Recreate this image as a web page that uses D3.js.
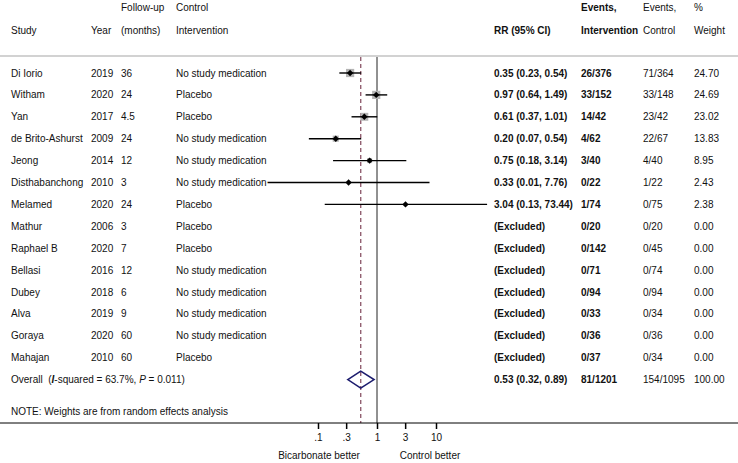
<!DOCTYPE html>
<html>
<head>
<meta charset="utf-8">
<script src="https://cdn.jsdelivr.net/npm/d3@7/dist/d3.min.js"></script>
<style>
  html, body { margin: 0; padding: 0; background: #fff; }
  svg text { font-family: "Liberation Sans", Arial, Helvetica, sans-serif; font-size: 10px; fill: #111; }
</style>
</head>
<body>
<svg id="chart" width="738" height="463"></svg>
<script>
// ---- data ----
const studies = ["Di Iorio","Witham","Yan","de Brito-Ashurst","Jeong","Disthabanchong","Melamed","Mathur","Raphael B","Bellasi","Dubey","Alva","Goraya","Mahajan"];
const years = ["2019","2020","2017","2009","2014","2010","2020","2006","2020","2016","2018","2019","2020","2010"];
const followup = ["36","24","4.5","24","12","3","24","3","7","12","6","9","60","60"];
const controlType = ["No study medication","Placebo","Placebo","No study medication","No study medication","No study medication","Placebo","Placebo","Placebo","No study medication","No study medication","No study medication","No study medication","Placebo"];
const rr = [0.35,0.97,0.61,0.20,0.75,0.33,3.04,null,null,null,null,null,null,null];
const rrLow = [0.23,0.64,0.37,0.07,0.18,0.01,0.13,null,null,null,null,null,null,null];
const rrHigh = [0.54,1.49,1.01,0.54,3.14,7.76,73.44,null,null,null,null,null,null,null];
const eventsIntervention = ["26/376","33/152","14/42","4/62","3/40","0/22","1/74","0/20","0/142","0/71","0/94","0/33","0/36","0/37"];
const eventsControl = ["71/364","33/148","23/42","22/67","4/40","1/22","0/75","0/20","0/45","0/74","0/94","0/34","0/36","0/34"];
const weights = [24.70,24.69,23.02,13.83,8.95,2.43,2.38,0,0,0,0,0,0,0];
const overallRR = 0.53, overallLow = 0.32, overallHigh = 0.89;
const overallEventsInt = "81/1201", overallEventsCtl = "154/1095", overallWeight = "100.00";
const tickValues = [0.1, 0.3, 1, 3, 10];
const tickLabels = [".1", ".3", "1", "3", "10"];

// ---- layout ----
const svg = d3.select("#chart");
const x = d3.scaleLog().domain([0.1, 10]).range([318, 436]);
const y = d3.scaleLinear().domain([0, 14]).range([73, 379.6]);
const topLineY = 56, axisY = 423;
const col = { study: 11, year: 91, fu: 121, ctl: 176, rr: 494, ei: 581, ec: 643, w: 694 };

function fmt(v) { return v.toFixed(2); }

// top grey rule
svg.append("line").attr("x1", 0).attr("x2", 738).attr("y1", topLineY).attr("y2", topLineY)
  .attr("stroke", "#d2d2d2").attr("stroke-width", 2);

// headers
const hdr = svg.append("g");
function ht(xx, yy, t, bold) {
  hdr.append("text").attr("x", xx).attr("y", yy).attr("dy", "0.35em").text(t)
    .style("font-weight", bold ? "bold" : "normal");
}
ht(col.fu, 7, "Follow-up"); ht(col.ctl, 7, "Control");
ht(col.study, 30, "Study"); ht(col.year, 30, "Year"); ht(col.fu, 30, "(months)"); ht(col.ctl, 30, "Intervention");
ht(col.rr, 30, "RR (95% CI)", true);
ht(col.ei, 7, "Events,", true); ht(col.ei, 30, "Intervention", true);
ht(col.ec, 7, "Events,"); ht(col.ec, 30, "Control");
ht(col.w, 7, "%"); ht(col.w, 30, "Weight");

// null line and overall dashed line
svg.append("line").attr("x1", x(1)).attr("x2", x(1)).attr("y1", topLineY + 1).attr("y2", axisY)
  .attr("stroke", "#222").attr("stroke-width", 1);
svg.append("line").attr("x1", x(overallRR)).attr("x2", x(overallRR)).attr("y1", topLineY + 1).attr("y2", axisY)
  .attr("stroke", "#8a5466").attr("stroke-width", 1.3).attr("stroke-dasharray", "4,3");

// marks (drawn before text so labels sit on top)
const marks = svg.append("g");
studies.forEach((s, i) => {
  if (rr[i] == null) return;
  const yy = y(i);
  const side = 1.65 * Math.sqrt(weights[i]);
  marks.append("rect").attr("x", x(rr[i]) - side / 2).attr("y", yy - side / 2)
    .attr("width", side).attr("height", side).attr("fill", "#b4b4b4");
  marks.append("line").attr("x1", x(rrLow[i])).attr("x2", x(rrHigh[i])).attr("y1", yy).attr("y2", yy)
    .attr("stroke", "#000").attr("stroke-width", 1.4);
  const cx = x(rr[i]), r = 3.2;
  marks.append("path").attr("d", `M${cx - r},${yy}L${cx},${yy - r}L${cx + r},${yy}L${cx},${yy + r}Z`).attr("fill", "#000");
});

// study rows text
const rows = svg.append("g");
studies.forEach((s, i) => {
  const yy = y(i);
  const add = (xx, t, bold) => rows.append("text").attr("x", xx).attr("y", yy).attr("dy", "0.35em")
    .text(t).style("font-weight", bold ? "bold" : "normal");
  add(col.study, s); add(col.year, years[i]); add(col.fu, followup[i]);
  add(col.ctl, controlType[i])
    .style("paint-order", "stroke").style("stroke", "#fff").style("stroke-width", "3px").style("stroke-linejoin", "round");
  add(col.rr, rr[i] == null ? "(Excluded)" : `${fmt(rr[i])} (${fmt(rrLow[i])}, ${fmt(rrHigh[i])})`, true);
  add(col.ei, eventsIntervention[i], true);
  add(col.ec, eventsControl[i]);
  add(col.w, fmt(weights[i]));
});

// overall row
const oy = y(14);
const ot = rows.append("text").attr("x", col.study).attr("y", oy).attr("dy", "0.35em");
ot.append("tspan").text("Overall\u00a0\u00a0(");
ot.append("tspan").text("I").style("font-style", "italic").style("font-weight", "bold");
ot.append("tspan").text("-squared = 63.7%, ");
ot.append("tspan").text("P").style("font-style", "italic");
ot.append("tspan").text(" = 0.011)");
rows.append("text").attr("x", col.rr).attr("y", oy).attr("dy", "0.35em").style("font-weight", "bold")
  .text(`${fmt(overallRR)} (${fmt(overallLow)}, ${fmt(overallHigh)})`);
rows.append("text").attr("x", col.ei).attr("y", oy).attr("dy", "0.35em").style("font-weight", "bold").text(overallEventsInt);
rows.append("text").attr("x", col.ec).attr("y", oy).attr("dy", "0.35em").text(overallEventsCtl);
rows.append("text").attr("x", col.w).attr("y", oy).attr("dy", "0.35em").text(overallWeight);
const dh = 8.5;
marks.append("path")
  .attr("d", `M${x(overallLow)},${oy}L${x(overallRR)},${oy - dh}L${x(overallHigh)},${oy}L${x(overallRR)},${oy + dh}Z`)
  .attr("fill", "none").attr("stroke", "#1c1c6e").attr("stroke-width", 1.6);

// note
rows.append("text").attr("x", col.study).attr("y", 411).attr("dy", "0.35em").text("NOTE: Weights are from random effects analysis");

// axis
svg.append("line").attr("x1", 0).attr("x2", 738).attr("y1", axisY).attr("y2", axisY).attr("stroke", "#000").attr("stroke-width", 1);
const axis = d3.axisBottom(x).tickValues(tickValues).tickFormat((d, i) => tickLabels[i]).tickSize(6).tickPadding(5);
const ag = svg.append("g").attr("transform", `translate(0,${axisY})`).call(axis);
ag.select(".domain").remove();
ag.selectAll(".tick line").attr("stroke", "#000").attr("stroke-width", 1.5);
ag.selectAll(".tick text").style("font-size", "10px").attr("fill", "#111")
  .style("font-family", '"Liberation Sans", Arial, sans-serif');
svg.append("text").attr("x", 319).attr("y", 455).attr("dy", "0.35em").attr("text-anchor", "middle").text("Bicarbonate better");
svg.append("text").attr("x", 430).attr("y", 455).attr("dy", "0.35em").attr("text-anchor", "middle").text("Control better");
</script>
</body>
</html>
